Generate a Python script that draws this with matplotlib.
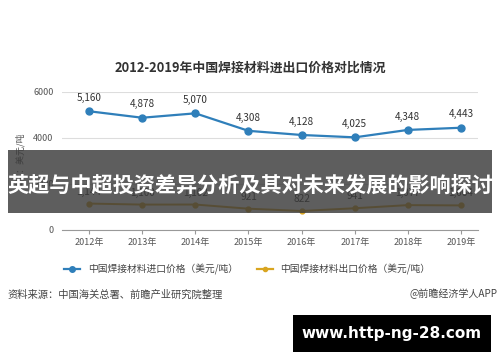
import matplotlib
matplotlib.use("Agg")
import matplotlib.pyplot as plt
from matplotlib.lines import Line2D
from matplotlib.patches import Rectangle

plt.rcParams['font.family'] = ['Noto Sans CJK SC', 'DejaVu Sans']

years = ['2012年', '2013年', '2014年', '2015年', '2016年', '2017年', '2018年', '2019年']
import_price = [5160, 4878, 5070, 4308, 4128, 4025, 4348, 4443]
export_price = [1144, 1100, 1102, 921, 822, 941, 1077, 1064]
yticks = [0, 2000, 4000, 6000]

title = '2012-2019年中国焊接材料进出口价格对比情况'
overlay_text = '英超与中超投资差异分析及其对未来发展的影响探讨'
label_import = '中国焊接材料进口价格（美元/吨）'
label_export = '中国焊接材料出口价格（美元/吨）'
source = '资料来源：中国海关总署、前瞻产业研究院整理'
brand = '@前瞻经济学人APP'
url = 'www.http-ng-28.com'

blue = '#2f7fba'
gold = '#d9a520'

fig = plt.figure(figsize=(5, 3.62), dpi=100)
ax = fig.add_axes([0.124, 0.365, 0.832, 0.381])
x = list(range(len(years)))
ax.plot(x, import_price, color=blue, lw=1.6, marker='o', ms=5, zorder=3)
ax.plot(x, export_price, color=gold, lw=1.4, marker='o', ms=3.5, zorder=3)
for xi, v in zip(x, import_price):
    ax.annotate(f'{v:,}', (xi, v), xytext=(0, 6), textcoords='offset points',
                ha='center', va='bottom', fontsize=7.2, color='#333333')
for xi, v in zip(x, export_price):
    ax.annotate(f'{v:,}', (xi, v), xytext=(0, 5), textcoords='offset points',
                ha='center', va='bottom', fontsize=7.2, color='#333333')
ax.set_xlim(-0.51, 7.32)
ax.set_ylim(0, 6000)
ax.set_yticks(yticks)
ax.set_yticklabels([str(t) for t in yticks], fontsize=6.5, color='#555555')
ax.set_xticks(x)
ax.set_xticklabels(years, fontsize=6.5, color='#555555')
ax.grid(axis='y', color='#dddddd', lw=0.8)
ax.set_axisbelow(True)
for s in ['top', 'right', 'left']:
    ax.spines[s].set_visible(False)
ax.spines['bottom'].set_color('#999999')
ax.tick_params(axis='y', length=0, pad=6)
ax.tick_params(axis='x', length=3, color='#999999', pad=3)
ax.set_ylabel('单位：美元/吨', fontsize=6.5, color='#555555', labelpad=6)

fig.text(0.5, 0.812, title, ha='center', va='center', fontsize=9.3, fontweight='bold', color='#333333')

h1 = Line2D([], [], color=blue, lw=1.6, marker='o', ms=4)
h2 = Line2D([], [], color=gold, lw=1.6, marker='o', ms=3)
fig.legend([h1, h2], [label_import, label_export], loc='center', bbox_to_anchor=(0.495, 0.257),
           ncol=2, frameon=False, fontsize=7, handlelength=1.6, columnspacing=2.0,
           labelcolor='#444444')

fig.text(0.014, 0.187, source, ha='left', va='center', fontsize=7.4, color='#444444')
fig.text(0.994, 0.187, brand, ha='right', va='center', fontsize=7.2, color='#444444')

# dark overlay band
fig.patches.append(Rectangle((0.016, 0.412), 0.968, 0.174, transform=fig.transFigure,
                             facecolor='#3a3a3a', alpha=0.82, edgecolor='none', zorder=10))
fig.text(0.5, 0.487, overlay_text, ha='center', va='center', fontsize=15.2, fontweight='bold',
         color='white', zorder=11)

# black url box
fig.patches.append(Rectangle((0.586, 0.028), 0.396, 0.102, transform=fig.transFigure,
                             facecolor='black', edgecolor='none', zorder=10))
fig.text(0.784, 0.079, url, ha='center', va='center', fontsize=11, fontweight='bold',
         color='white', zorder=11, family=['DejaVu Sans'])

fig.savefig('out.png', dpi=100)
